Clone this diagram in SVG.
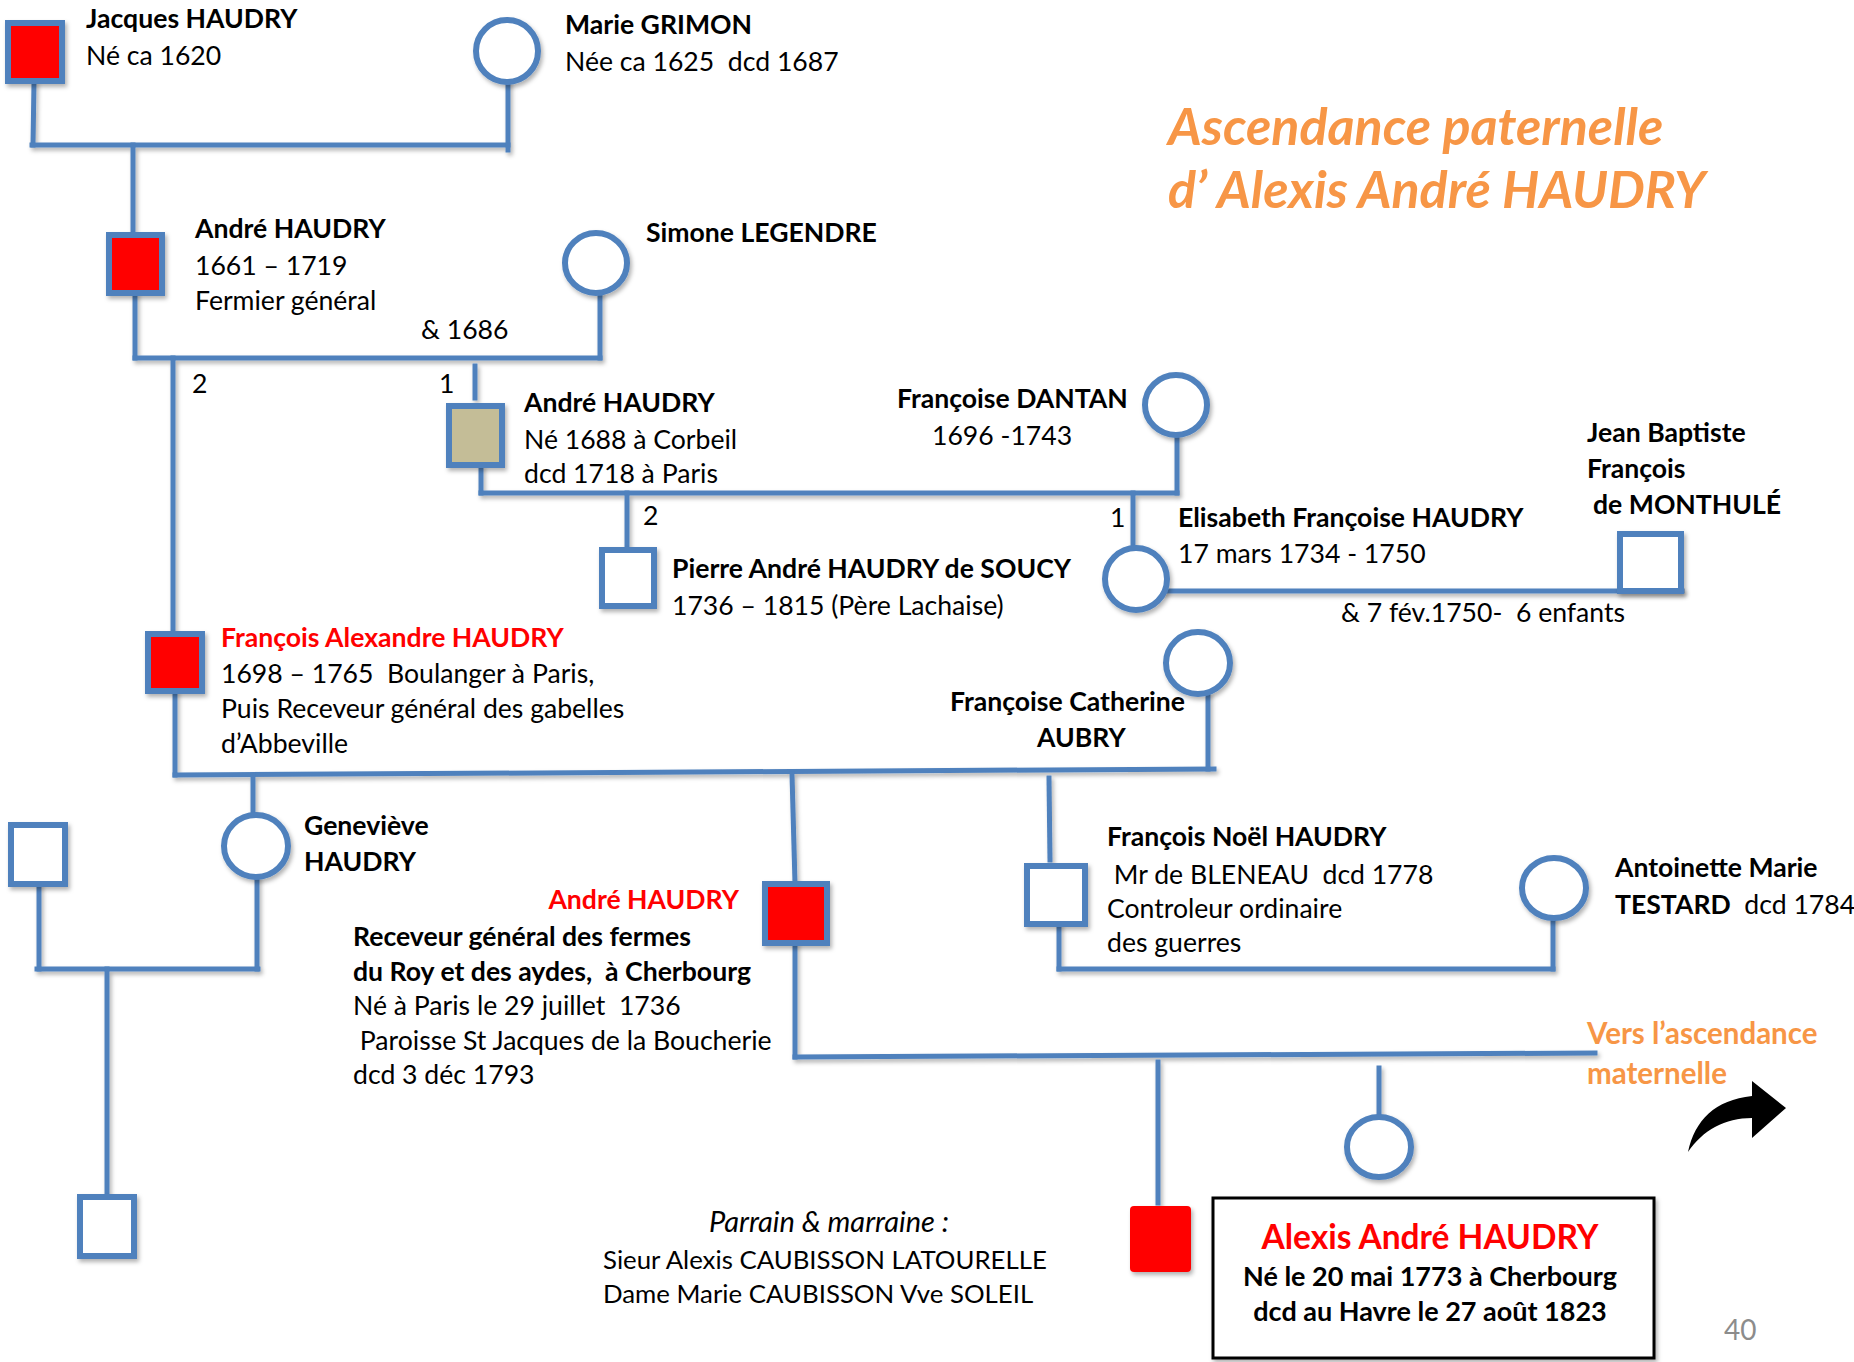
<svg xmlns="http://www.w3.org/2000/svg" width="1854" height="1362" viewBox="0 0 1854 1362">
<defs>
<filter id="sh" x="-20%" y="-20%" width="140%" height="140%"><feDropShadow dx="2" dy="3" stdDeviation="2" flood-color="#000" flood-opacity="0.3"/></filter>
<style>
text{font-family:Lato,"Liberation Sans",sans-serif;font-size:26.6px;fill:#000;white-space:pre}
.b{font-weight:bold}
.r{fill:#FF0000}
.o{fill:#F79646}
.sq{stroke:#4F81BD;stroke-width:6;fill:#fff}
.ci{stroke:#4F81BD;stroke-width:6;fill:#fff}
.red{fill:#FF0000}
.tan{fill:#C4BD97}
#connectors line{stroke:#4F81BD;stroke-width:5;stroke-linecap:square}
</style>
</defs>
<rect width="1854" height="1362" fill="#fff"/>
<g id="connectors" filter="url(#sh)">
<line x1="34" y1="83" x2="33" y2="145"/>
<line x1="32" y1="145" x2="508" y2="145"/>
<line x1="508" y1="82" x2="508" y2="150"/>
<line x1="133" y1="145" x2="133" y2="234"/>
<line x1="135" y1="294" x2="135" y2="358"/>
<line x1="135" y1="358" x2="600" y2="358"/>
<line x1="600" y1="293" x2="600" y2="358"/>
<line x1="173" y1="358" x2="173" y2="633"/>
<line x1="475" y1="366" x2="475" y2="398"/>
<line x1="481" y1="467" x2="481" y2="493"/>
<line x1="481" y1="493" x2="1177" y2="493"/>
<line x1="1177" y1="436" x2="1177" y2="493"/>
<line x1="627" y1="493" x2="627" y2="549"/>
<line x1="1133" y1="493" x2="1133" y2="548"/>
<line x1="1162" y1="591" x2="1682" y2="591"/>
<line x1="175" y1="692" x2="175" y2="775"/>
<line x1="175" y1="775" x2="1214" y2="769"/>
<line x1="1208" y1="694" x2="1208" y2="769"/>
<line x1="253" y1="775" x2="253" y2="815"/>
<line x1="792" y1="774" x2="795" y2="883"/>
<line x1="1049" y1="778" x2="1050" y2="860"/>
<line x1="39" y1="885" x2="39" y2="969"/>
<line x1="37" y1="969" x2="258" y2="969"/>
<line x1="257" y1="877" x2="257" y2="969"/>
<line x1="107" y1="969" x2="107" y2="1196"/>
<line x1="1059" y1="925" x2="1059" y2="969"/>
<line x1="1059" y1="969" x2="1553" y2="969"/>
<line x1="1553" y1="918" x2="1553" y2="969"/>
<line x1="795" y1="944" x2="795" y2="1057"/>
<line x1="795" y1="1057" x2="1595" y2="1053"/>
<line x1="1158" y1="1062" x2="1158" y2="1203"/>
<line x1="1379" y1="1068" x2="1379" y2="1116"/>
</g>
<g id="labels-links">
<text x="192" y="393">2</text>
<text x="439" y="393">1</text>
<text x="643" y="525">2</text>
<text x="1110" y="527">1</text>
<text x="421" y="339">&amp; 1686</text>
<text x="1341" y="622">&amp; 7 fév.1750-  6 enfants</text>
</g>
<g id="jacques">
<rect class="sq red" x="8" y="23" width="54" height="58" filter="url(#sh)"/>
<text class="b" x="86" y="28">Jacques HAUDRY</text>
<text x="86" y="65">Né ca 1620</text>
</g>
<g id="marie">
<ellipse class="ci" cx="507" cy="51" rx="31" ry="31" filter="url(#sh)"/>
<text class="b" x="565" y="34">Marie GRIMON</text>
<text x="565" y="71">Née ca 1625  dcd 1687</text>
</g>
<g id="andre1">
<rect class="sq red" x="109" y="235" width="53" height="58" filter="url(#sh)"/>
<text class="b" x="195" y="238">André HAUDRY</text>
<text x="195" y="275">1661 – 1719</text>
<text x="195" y="310">Fermier général</text>
</g>
<g id="simone">
<ellipse class="ci" cx="596" cy="263" rx="31" ry="30" filter="url(#sh)"/>
<text class="b" x="646" y="242">Simone LEGENDRE</text>
</g>
<g id="andre2">
<rect class="sq tan" x="449" y="406" width="53" height="59" filter="url(#sh)"/>
<text class="b" x="524" y="412">André HAUDRY</text>
<text x="524" y="449">Né 1688 à Corbeil</text>
<text x="524" y="483">dcd 1718 à Paris</text>
</g>
<g id="dantan">
<ellipse class="ci" cx="1176" cy="405" rx="31" ry="30" filter="url(#sh)"/>
<text class="b" x="897" y="408">Françoise DANTAN</text>
<text x="932" y="445">1696 -1743</text>
</g>
<g id="pierre">
<rect class="sq" x="602" y="550" width="52" height="56" filter="url(#sh)"/>
<text class="b" x="672" y="578">Pierre André HAUDRY de SOUCY</text>
<text x="672" y="615">1736 – 1815 (Père Lachaise)</text>
</g>
<g id="elisabeth">
<ellipse class="ci" cx="1136" cy="579" rx="31" ry="31" filter="url(#sh)"/>
<text class="b" x="1178" y="527">Elisabeth Françoise HAUDRY</text>
<text x="1178" y="563">17 mars 1734 - 1750</text>
</g>
<g id="monthule">
<rect class="sq" x="1620" y="534" width="61" height="57" filter="url(#sh)"/>
<text class="b" x="1587" y="442">Jean Baptiste</text>
<text class="b" x="1587" y="478">François</text>
<text class="b" x="1593" y="514">de MONTHULÉ</text>
</g>
<g id="francois-alexandre">
<rect class="sq red" x="148" y="634" width="54" height="57" filter="url(#sh)"/>
<text class="b r" x="221" y="647">François Alexandre HAUDRY</text>
<text x="221" y="683">1698 – 1765  Boulanger à Paris,</text>
<text x="221" y="718">Puis Receveur général des gabelles</text>
<text x="221" y="753">d’Abbeville</text>
</g>
<g id="aubry">
<ellipse class="ci" cx="1198" cy="663" rx="32" ry="31" filter="url(#sh)"/>
<text class="b" x="950" y="711">Françoise Catherine</text>
<text class="b" x="1037" y="747">AUBRY</text>
</g>
<g id="genevieve">
<ellipse class="ci" cx="256" cy="846" rx="32" ry="31" filter="url(#sh)"/>
<text class="b" x="304" y="835">Geneviève</text>
<text class="b" x="304" y="871">HAUDRY</text>
</g>
<g id="conjoint-genevieve">
<rect class="sq" x="11" y="825" width="54" height="59" filter="url(#sh)"/>
</g>
<g id="enfant-genevieve">
<rect class="sq" x="80" y="1197" width="54" height="59" filter="url(#sh)"/>
</g>
<g id="andre3">
<rect class="sq red" x="765" y="884" width="62" height="59" filter="url(#sh)"/>
<text class="b r" x="739" y="909" text-anchor="end">André HAUDRY</text>
<text class="b" x="353" y="946">Receveur général des fermes</text>
<text class="b" x="353" y="981">du Roy et des aydes,  à Cherbourg</text>
<text x="353" y="1015">Né à Paris le 29 juillet  1736</text>
<text x="353" y="1050"> Paroisse St Jacques de la Boucherie</text>
<text x="353" y="1084">dcd 3 déc 1793</text>
</g>
<g id="francois-noel">
<rect class="sq" x="1027" y="866" width="58" height="58" filter="url(#sh)"/>
<text class="b" x="1107" y="846">François Noël HAUDRY</text>
<text x="1107" y="884"> Mr de BLENEAU  dcd 1778</text>
<text x="1107" y="918">Controleur ordinaire</text>
<text x="1107" y="952">des guerres</text>
</g>
<g id="testard">
<ellipse class="ci" cx="1554" cy="888" rx="32" ry="30" filter="url(#sh)"/>
<text class="b" x="1615" y="877">Antoinette Marie</text>
<text x="1615" y="914"><tspan class="b">TESTARD</tspan>  dcd 1784</text>
</g>
<g id="soeur">
<ellipse class="ci" cx="1379" cy="1147" rx="32" ry="30" filter="url(#sh)"/>
</g>
<g id="alexis">
<rect x="1130" y="1206" width="61" height="66" rx="4" fill="#FF0000" filter="url(#sh)"/>
<rect x="1213" y="1198" width="441" height="160" fill="#fff" stroke="#000" stroke-width="3" filter="url(#sh)"/>
<text class="b r" x="1430" y="1249" text-anchor="middle" style="font-size:33.5px">Alexis André HAUDRY</text>
<text class="b" x="1430" y="1286" text-anchor="middle" style="font-size:27px">Né le 20 mai 1773 à Cherbourg</text>
<text class="b" x="1430" y="1321" text-anchor="middle" style="font-size:27px">dcd au Havre le 27 août 1823</text>
</g>
<g id="parrains">
<text x="709" y="1232" style="font-style:italic;font-size:29px">Parrain &amp; marraine :</text>
<text x="603" y="1269" style="font-size:25.8px">Sieur Alexis CAUBISSON LATOURELLE</text>
<text x="603" y="1303" style="font-size:25.8px">Dame Marie CAUBISSON Vve SOLEIL</text>
</g>
<g id="titre">
<text class="o" x="1168" y="145" style="font-size:52px;font-weight:bold;font-style:italic">Ascendance paternelle</text>
<text class="o" x="1168" y="208" style="font-size:52px;font-weight:bold;font-style:italic">d’ Alexis André HAUDRY</text>
</g>
<g id="vers-maternelle">
<text class="o b" x="1587" y="1044" style="font-size:29.5px">Vers l’ascendance</text>
<text class="o b" x="1587" y="1084" style="font-size:29.5px">maternelle</text>
<path d="M1688,1152 C1695,1120 1715,1100 1752,1096 L1752,1081 L1786,1108 L1752,1138 L1752,1118 C1725,1118 1703,1130 1688,1152 Z" fill="#000"/>
</g>
<text x="1724" y="1340" style="fill:#8c8c8c;font-size:28px">40</text>
</svg>
